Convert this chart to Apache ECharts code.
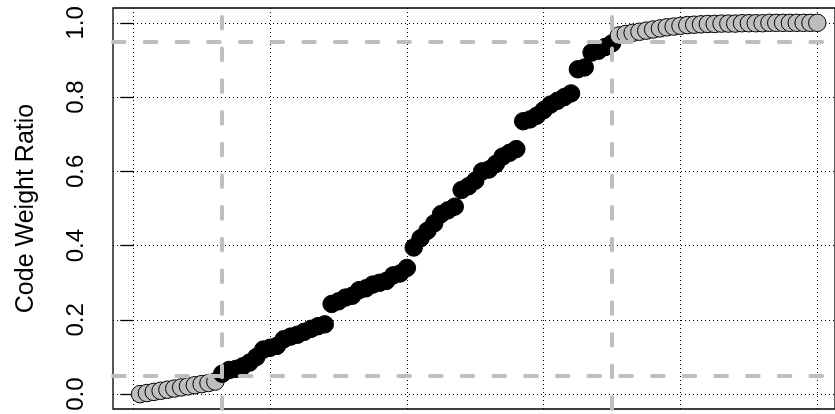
<!DOCTYPE html>
<html>
<head>
<meta charset="utf-8">
<script src="https://cdn.jsdelivr.net/npm/echarts@6/dist/echarts.min.js"></script>
<style>
html,body{margin:0;padding:0;background:#fff;}
#chart{width:835px;height:414px;}
</style>
</head>
<body>
<div id="chart"></div>
<script>
// ---- data ----
const grayLowValues = [0.000,0.003,0.006,0.009,0.012,0.015,0.018,0.021,0.024,0.027,0.030,0.034];
const blackValues = [0.055,0.065,0.068,0.075,0.085,0.10,0.12,0.125,0.13,0.148,0.155,0.16,0.168,0.176,0.183,0.188,
  0.243,0.25,0.26,0.265,0.28,0.285,0.295,0.30,0.305,0.32,0.325,0.34,
  0.395,0.42,0.44,0.46,0.485,0.495,0.505,0.55,0.56,0.575,0.60,0.605,0.62,0.64,0.65,0.66,
  0.735,0.74,0.75,0.765,0.78,0.79,0.80,0.81,0.875,0.88,0.92,0.925,0.935,0.945];
const grayHighValues = [0.966,0.970,0.973,0.976,0.979,0.982,0.985,0.988,0.990,0.992,0.994,0.995,0.996,0.997,0.997,
  0.998,0.998,0.998,0.999,0.999,0.999,0.999,1,1,1,1,1,1,1,1];
const yTicks = [0, 0.2, 0.4, 0.6, 0.8, 1.0];
const xGrid = [0, 20, 40, 60, 80, 100];
const hRefs = [0.05, 0.95];
const vRefs = [13, 70];
const yLabel = 'Code Weight Ratio';

// ---- build ----
const n = grayLowValues.length + blackValues.length + grayHighValues.length;
const xMin = 1 - 0.04 * (n - 1);
const xMaxFull = n + 0.04 * (n - 1);
// plot region runs past the right edge of the picture: keep only the visible part
const xMax = xMin + (xMaxFull - xMin) * 722 / 731.4;
const yMin = -0.04, yMax = 1.04;
let idx = 1;
const toData = arr => arr.map(v => [idx++, v]);
const grayLow = toData(grayLowValues);
const black = toData(blackValues);
const grayHigh = toData(grayHighValues);

const dotted = { type: [1, 3], color: '#000', width: 1 };
const gridLines = [];
yTicks.forEach(v => gridLines.push([{ coord: [xMin, v] }, { coord: [xMax, v] }]));
xGrid.forEach(v => gridLines.push([{ coord: [v, yMin] }, { coord: [v, yMax] }]));
const refLines = [];
hRefs.forEach(v => refLines.push([{ coord: [xMin, v] }, { coord: [xMax, v] }]));
vRefs.forEach(v => refLines.push([{ coord: [v, yMin] }, { coord: [v, yMax] }]));

const font = 'Liberation Sans, Arial, Helvetica, sans-serif';
const chart = echarts.init(document.getElementById('chart'), null, { renderer: 'canvas' });
chart.setOption({
  animation: false,
  backgroundColor: '#fff',
  grid: { left: 113, top: 8, right: 0, bottom: 5, show: true, borderColor: '#000', borderWidth: 1.3, backgroundColor: 'transparent' },
  xAxis: {
    type: 'value', min: xMin, max: xMax,
    axisLine: { show: false }, axisTick: { show: false }, axisLabel: { show: false }, splitLine: { show: false }
  },
  yAxis: {
    type: 'value', min: yMin, max: yMax,
    axisLine: { show: false },
    axisTick: { show: true, customValues: yTicks, length: 13, lineStyle: { color: '#000', width: 1.3 } },
    axisLabel: { customValues: yTicks, formatter: v => Number(v).toFixed(1), rotate: 90, margin: 25,
      fontSize: 24, color: '#000', fontFamily: font },
    splitLine: { show: false },
    name: yLabel, nameLocation: 'middle', nameGap: 74,
    nameTextStyle: { fontSize: 25, color: '#000', fontFamily: font }
  },
  series: [
    {
      type: 'scatter', data: grayLow, symbol: 'circle', symbolSize: 17.5, z: 2,
      itemStyle: { color: '#BEBEBE', borderColor: '#000', borderWidth: 1, opacity: 1 },
      emphasis: { disabled: true }, silent: true,
      markLine: { silent: true, symbol: ['none', 'none'], z: 1, label: { show: false },
        lineStyle: dotted, emphasis: { disabled: true }, data: gridLines }
    },
    {
      type: 'scatter', data: black, symbol: 'circle', symbolSize: 17.5, z: 2,
      itemStyle: { color: '#000', borderColor: '#000', borderWidth: 1, opacity: 1 },
      emphasis: { disabled: true }, silent: true
    },
    {
      type: 'scatter', data: grayHigh, symbol: 'circle', symbolSize: 17.5, z: 2,
      itemStyle: { color: '#BEBEBE', borderColor: '#000', borderWidth: 1, opacity: 1 },
      emphasis: { disabled: true }, silent: true,
      markLine: { silent: true, symbol: ['none', 'none'], z: 5, label: { show: false },
        lineStyle: { type: [11.7, 20], color: '#BEBEBE', width: 4, cap: 'round' },
        emphasis: { disabled: true }, data: refLines }
    }
  ]
});
</script>
</body>
</html>
